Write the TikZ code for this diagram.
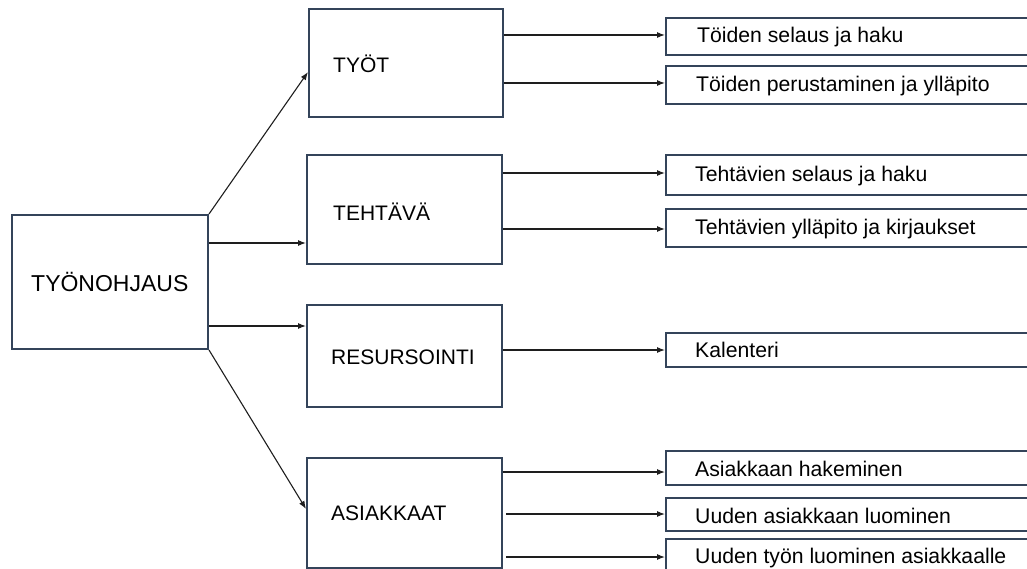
\documentclass[tikz,border=0pt]{standalone}
\usepackage{fontspec}
\setmainfont{Liberation Sans}
\usetikzlibrary{arrows.meta,fit}
\definecolor{boxc}{RGB}{52,68,90}
\definecolor{arrc}{RGB}{30,30,30}
\tikzset{
  box/.style={draw=boxc, line width=2pt, rectangle, inner sep=0pt},
  lbl/.style={anchor=base west, inner sep=0pt, text=black},
  mid/.style={lbl, font=\fontsize{21}{25}\selectfont},
  rt/.style={lbl, font=\fontsize{21.2}{25}\selectfont},
  arr/.style={draw=arrc, line width=1.1pt, -{Latex[length=8pt,width=6pt]}},
}
\begin{document}
\begin{tikzpicture}[x=1pt,y=-1pt]
\useasboundingbox (0,0) rectangle (1027,569);
\clip (0,0) rectangle (1027,569);
% left and middle boxes
\node[box, fit={(12,215) (208,349)}] (root) {};
\node[box, fit={(309,9) (503,117)}] (tyot) {};
\node[box, fit={(307,155) (502,264)}] (teht) {};
\node[box, fit={(307,305) (502,407)}] (res) {};
\node[box, fit={(307,458) (502,568)}] (asi) {};
% right boxes
\node[box, fit={(666,18) (1040,55)}] (r1) {};
\node[box, fit={(666,66) (1040,104)}] (r2) {};
\node[box, fit={(666,155) (1040,195)}] (r3) {};
\node[box, fit={(666,209) (1040,247)}] (r4) {};
\node[box, fit={(666,333) (1040,367)}] (r5) {};
\node[box, fit={(666,451) (1040,485)}] (r6) {};
\node[box, fit={(666,498) (1040,531)}] (r7) {};
\node[box, fit={(666,539) (1040,575)}] (r8) {};
% labels
\node[lbl, font=\fontsize{23}{27}\selectfont] (lroot) at (31,291) {TYÖNOHJAUS};
\node[mid] (ltyot) at (333,73) {TYÖT};
\node[mid] (lteht) at (333,221) {TEHTÄVÄ};
\node[mid] (lres) at (331,364) {RESURSOINTI};
\node[mid] (lasi) at (331,520) {ASIAKKAAT};
\node[rt] (l1) at (697,43) {Töiden selaus ja haku};
\node[rt] (l2) at (696,92) {Töiden perustaminen ja ylläpito};
\node[rt] (l3) at (695,182) {Tehtävien selaus ja haku};
\node[rt] (l4) at (695,235) {Tehtävien ylläpito ja kirjaukset};
\node[rt] (l5) at (695,357) {Kalenteri};
\node[rt] (l6) at (695,476) {Asiakkaan hakeminen};
\node[rt] (l7) at (695,523) {Uuden asiakkaan luominen};
\node[rt] (l8) at (695,563) {Uuden työn luominen asiakkaalle};
% connectors from root
\draw[arr] (root.north east) -- (tyot.west |- 0,72);
\draw[arr] (root.east |- 0,243) -- (teht.west |- 0,243);
\draw[arr] (root.east |- 0,326) -- (res.west |- 0,326);
\draw[arr] (root.south east) -- (asi.west |- 0,509);
% connectors to right boxes
\draw[arr] (tyot.east |- 0,35) -- (r1.west |- 0,35);
\draw[arr] (tyot.east |- 0,83) -- (r2.west |- 0,83);
\draw[arr] (teht.east |- 0,173) -- (r3.west |- 0,173);
\draw[arr] (teht.east |- 0,229) -- (r4.west |- 0,229);
\draw[arr] (res.east |- 0,350) -- (r5.west |- 0,350);
\draw[arr] (asi.east |- 0,472) -- (r6.west |- 0,472);
\draw[arr] ([xshift=3pt]asi.east |- 0,514) -- (r7.west |- 0,514);
\draw[arr] ([xshift=3pt]asi.east |- 0,557) -- (r8.west |- 0,557);
\end{tikzpicture}
\end{document}
